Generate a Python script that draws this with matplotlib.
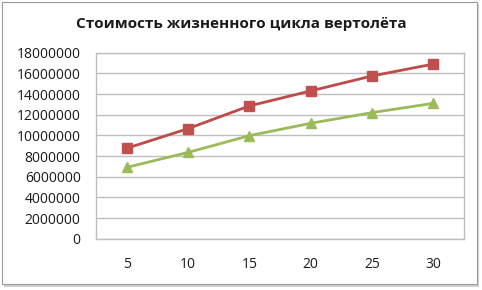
import matplotlib
matplotlib.use("Agg")
import matplotlib.pyplot as plt
from matplotlib.patches import Rectangle

categories = ["5", "10", "15", "20", "25", "30"]
series_red = [8750000, 10650000, 12850000, 14300000, 15750000, 16900000]
series_green = [6900000, 8350000, 9970000, 11170000, 12200000, 13100000]
y_ticks = [0, 2000000, 4000000, 6000000, 8000000, 10000000, 12000000, 14000000, 16000000, 18000000]
title = "Стоимость жизненного цикла вертолёта"

plt.rcParams['font.family'] = ['Open Sans', 'DejaVu Sans']

W, H = 482, 290
fig = plt.figure(figsize=(W / 100, H / 100), dpi=100)
fig.patch.set_facecolor('white')

# outer frame with shadow
fig.patches.append(Rectangle((4 / W, 1 - 287 / H), 475 / W, 283 / H, transform=fig.transFigure,
                             facecolor='#d0d0d0', edgecolor='none', zorder=0))
fig.patches.append(Rectangle((2 / W, 1 - 284 / H), 475 / W, 282 / H, transform=fig.transFigure,
                             facecolor='white', edgecolor='#9a9a9a', linewidth=0.8, zorder=1))

ax = fig.add_axes([96 / W, 1 - 238.7 / H, (464 - 96) / W, (238.7 - 52.7) / H])
ax.set_zorder(2)
ax.patch.set_facecolor('white')

x = list(range(len(categories)))
ax.plot(x, series_red, color='#BE4B48', linewidth=2, marker='s', markersize=7,
        markerfacecolor='#C0504D', markeredgecolor='#C0504D', zorder=3)
ax.plot(x, series_green, color='#9BBB59', linewidth=2, marker='^', markersize=7.5,
        markerfacecolor='#9BBB59', markeredgecolor='#9BBB59', zorder=3)

ax.set_xlim(-0.5, len(categories) - 0.5)
ax.set_ylim(0, 18000000)
ax.set_xticks(x)
ax.set_xticklabels(categories)
ax.set_yticks(y_ticks)
ax.set_yticklabels([str(v) for v in y_ticks])
ax.yaxis.grid(True, color='#bfbfbf', linewidth=1)
ax.set_axisbelow(True)
for s in ax.spines.values():
    s.set_color('#bfbfbf')
    s.set_linewidth(1)
ax.tick_params(axis='both', length=0, labelsize=10, colors='#1a1a1a')
ax.tick_params(axis='x', pad=13)
ax.tick_params(axis='y', pad=11)

fig.text(0.5, 1 - 24 / H, title, ha='center', va='center', fontsize=11,
         fontweight='bold', color='#1a1a1a', zorder=3)

fig.savefig('out.png', dpi=100)
